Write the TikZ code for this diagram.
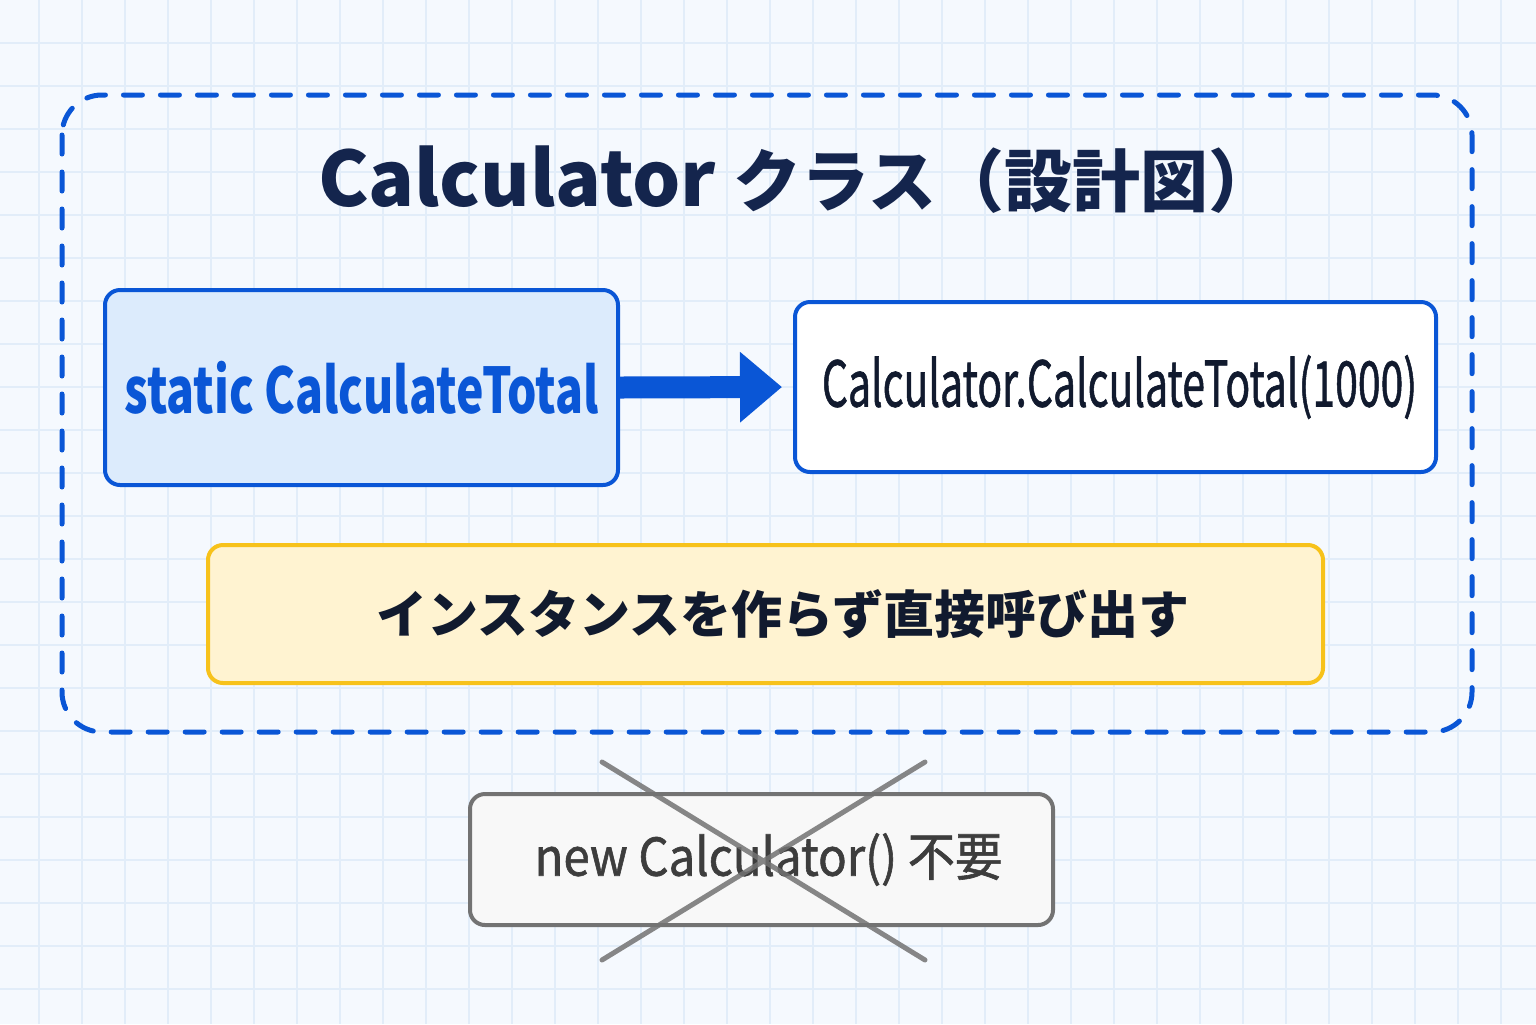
\documentclass[tikz,border=0pt]{standalone}
\usepackage{fontspec}
\usepackage{graphicx}
\setmainfont{Noto Sans CJK JP}
\newfontfamily\medium{Noto Sans CJK JP}[FakeBold=1.2]
\usetikzlibrary{arrows.meta}
\definecolor{bgcol}{HTML}{F5F9FE}
\definecolor{gridcol}{HTML}{E2EDF9}
\definecolor{blueline}{HTML}{0A56D6}
\definecolor{bluefill}{HTML}{DCEBFC}
\definecolor{navy}{HTML}{14254D}
\definecolor{ink}{HTML}{111A2E}
\definecolor{yellowfill}{HTML}{FFF3D1}
\definecolor{yellowline}{HTML}{F7C21B}
\definecolor{greyline}{HTML}{737373}
\definecolor{greyfill}{HTML}{F8F8F8}
\definecolor{greytext}{HTML}{3D3D3D}
\begin{document}
\begin{tikzpicture}
[x=0.5pt, y=-0.5pt, >=Stealth,
 box/.style={draw, line width=2pt, rounded corners=7.5pt, inner sep=0},
 gridline/.style={gridcol, line width=1pt}]
\useasboundingbox (0, 0) rectangle (1536, 1024);
\fill [bgcol] (0, 0) rectangle (1536, 1024);
\foreach \k in {0, ..., 35} \draw [gridline] (39+43*\k, 0) -- (39+43*\k, 1024);
\foreach \k in {0, ..., 23} \draw [gridline] (0, 43+43*\k) -- (1536, 43+43*\k);
\draw [blueline, line width=2.5pt, dash pattern=on 9.5pt off 9pt, line cap=round, rounded corners=20pt] (62, 95) rectangle (1472, 732);
\node (title) at (797, 180) {\bfseries\color{navy}\fontsize{38}{46}\selectfont Calculator \fontsize{34}{46}\selectfont クラス（設計図）};
\node (stat) [box, blueline, fill=bluefill, minimum width=256.5pt, minimum height=97.5pt] at (361.5, 387.5)
  {\fontsize{31.5}{36}\selectfont\bfseries\color{blueline}\scalebox{0.735}[1]{static CalculateTotal}};
\node (call) [box, blueline, fill=white, minimum width=320.5pt, minimum height=85pt] at (1115.5, 387)
  {\fontsize{31.5}{36}\medium\color{ink}\hspace*{4pt}\scalebox{0.65}[1]{Calculator.CalculateTotal(1000)}};
\draw [blueline, line width=11pt, -{Triangle[length=21pt, width=34pt]}, shorten >=5.5pt] (stat.east) -- (call.west);
\node (note) [box, yellowline, fill=yellowfill, minimum width=557.5pt, minimum height=69pt] at (765.5, 614)
  {\fontsize{25.5}{30}\selectfont\bfseries\color{ink}\hspace*{17pt}インスタンスを作らず直接呼び出す};
\node (newobj) [box, greyline, fill=greyfill, minimum width=291.5pt, minimum height=65.5pt] at (761.5, 859.5)
  {\fontsize{26}{30}\medium\color{greytext}\hspace*{7pt}\scalebox{0.91}[1]{new Calculator() 不要}};
\coordinate (c1) at (602, 762);
\coordinate (c2) at (925, 960);
\coordinate (c3) at (925, 762);
\coordinate (c4) at (602, 960);
\draw [greyline, line width=2.5pt, opacity=0.85, line cap=round] (c1) -- (c2) (c3) -- (c4);
\end{tikzpicture}
\end{document}
